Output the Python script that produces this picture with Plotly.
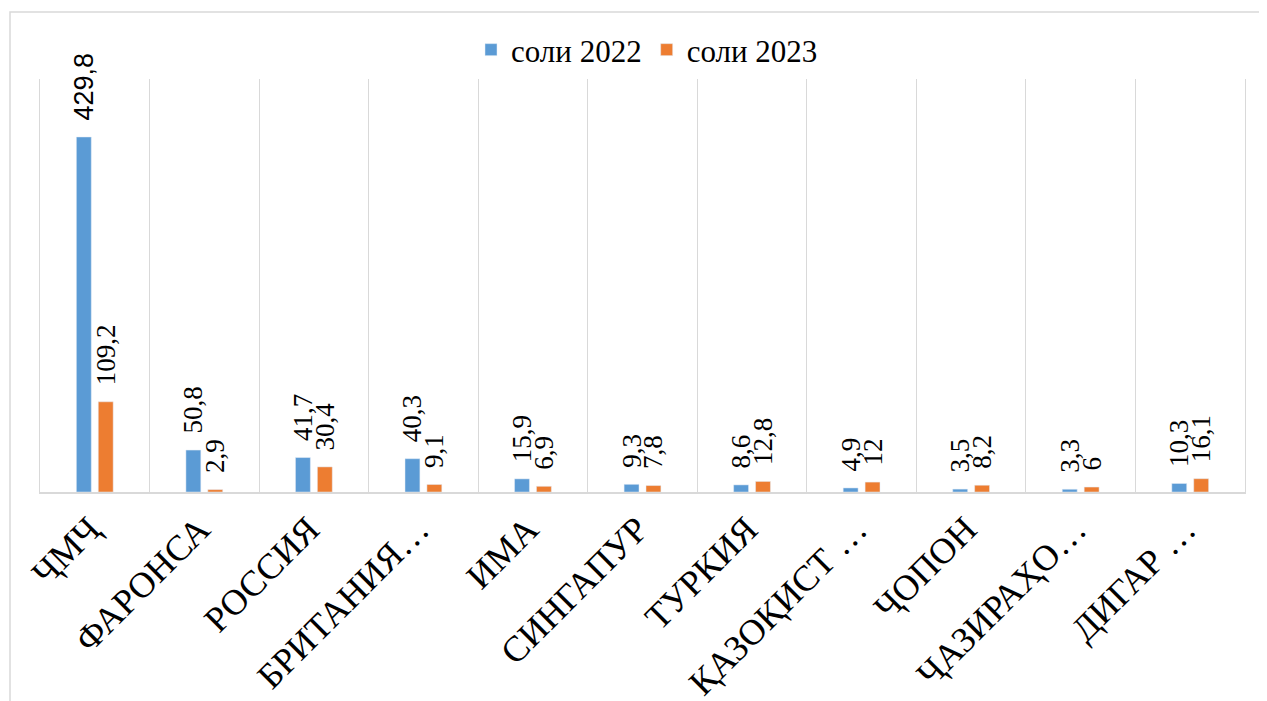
import plotly.graph_objects as go

categories = ["ҶМҶ", "ФАРОНСА", "РОССИЯ", "БРИТАНИЯ…", "ИМА", "СИНГАПУР",
              "ТУРКИЯ", "ҚАЗОҚИСТ …", "ҶОПОН", "ҶАЗИРАҲО…", "ДИГАР …"]
series_names = ["соли 2022", "соли 2023"]
values_2022 = [429.8, 50.8, 41.7, 40.3, 15.9, 9.3, 8.6, 4.9, 3.5, 3.3, 10.3]
values_2023 = [109.2, 2.9, 30.4, 9.1, 6.9, 7.8, 12.8, 12, 8.2, 6, 16.1]
colors = ["#5B9BD5", "#ED7D31"]

SERIF = "'Liberation Serif', 'Times New Roman', serif"
SANS = "'Liberation Sans', Arial, sans-serif"

# page body has an 8px margin; compensate so the chart lands where the reference is
OFF = 8
L, T, W, H = 40 - OFF, 79 - OFF, 1205, 413


def fmt(v, sans=False):
    s = ("%g" % v).replace(".", ",")
    if sans:
        s = "<span style=\"font-family:'Liberation Sans', Arial, sans-serif\">" + s + "</span>"
    return "\u00a0\u00a0" + s


fig = go.Figure()
for name, vals, col, idx in [(series_names[0], values_2022, colors[0], 0),
                             (series_names[1], values_2023, colors[1], 1)]:
    texts = [fmt(v, sans=(idx == 0 and i == 0)) for i, v in enumerate(vals)]
    fig.add_trace(go.Bar(
        name=name, x=categories, y=vals, marker_color=col,
        text=texts, textposition="outside", textangle=-90,
        textfont=dict(family=SERIF, size=27, color="#000000"),
        outsidetextfont=dict(family=SERIF, size=27, color="#000000"),
        constraintext="none", cliponaxis=False,
    ))

fig.update_layout(
    width=1267, height=701,
    paper_bgcolor="white", plot_bgcolor="white",
    barmode="group", bargap=0.6, bargroupgap=0.32,
    margin=dict(l=L, r=1267 - L - W, t=T, b=701 - T - H, autoexpand=False),
    font=dict(family=SERIF, color="#000000"),
    legend=dict(orientation="h", x=(647 - OFF) / 1267, xref="container", xanchor="center",
                y=1 - (50 - OFF) / 701, yref="container", yanchor="middle",
                font=dict(family=SERIF, size=31), itemwidth=30, traceorder="normal"),
    showlegend=True,
)
fig.update_xaxes(
    type="category", tickson="boundaries", showgrid=True, gridcolor="#D9D9D9", gridwidth=1,
    showline=True, linecolor="#D9D9D9", linewidth=1.5, ticks="", tickangle=-45,
    tickfont=dict(family=SERIF, size=36, color="#000000"), automargin=False,
    ticklabelshift=-5,
)
fig.update_yaxes(range=[0, 500], showgrid=False, showticklabels=False, zeroline=False,
                 showline=True, mirror=True, linecolor="#D9D9D9", linewidth=1,
                 automargin=False)
fig.add_shape(type="rect", xref="paper", yref="paper",
              x0=(10 - 40) / W, x1=(1262 - 40) / W, y0=-0.6, y1=1 + (79 - 12) / H,
              line=dict(color="#D9D9D9", width=1.5), layer="below")

fig.write_html("out.html")
